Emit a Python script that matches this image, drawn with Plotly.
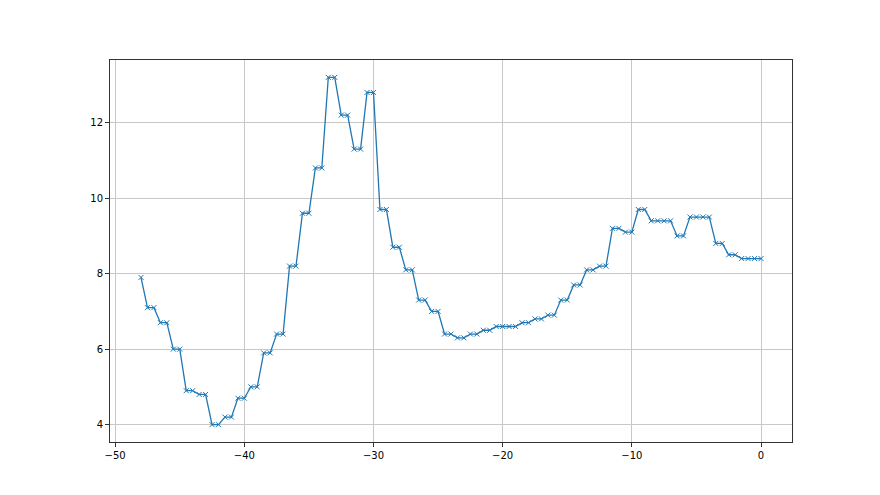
import numpy as np
import plotly.graph_objects as go

x_vals = [
    -48.0, -47.5, -47.0, -46.5, -46.0, -45.5, -45.0, -44.5, -44.0, -43.5,
    -43.0, -42.5, -42.0, -41.5, -41.0, -40.5, -40.0, -39.5, -39.0, -38.5,
    -38.0, -37.5, -37.0, -36.5, -36.0, -35.5, -35.0, -34.5, -34.0, -33.5,
    -33.0, -32.5, -32.0, -31.5, -31.0, -30.5, -30.0, -29.5, -29.0, -28.5,
    -28.0, -27.5, -27.0, -26.5, -26.0, -25.5, -25.0, -24.5, -24.0, -23.5,
    -23.0, -22.5, -22.0, -21.5, -21.0, -20.5, -20.0, -19.5, -19.0, -18.5,
    -18.0, -17.5, -17.0, -16.5, -16.0, -15.5, -15.0, -14.5, -14.0, -13.5,
    -13.0, -12.5, -12.0, -11.5, -11.0, -10.5, -10.0, -9.5, -9.0, -8.5,
    -8.0, -7.5, -7.0, -6.5, -6.0, -5.5, -5.0, -4.5, -4.0, -3.5,
    -3.0, -2.5, -2.0, -1.5, -1.0, -0.5, 0.0,
]

y_vals = [
    7.9, 7.1, 7.1, 6.7, 6.7, 6.0, 6.0, 4.9, 4.9, 4.8,
    4.8, 4.0, 4.0, 4.2, 4.2, 4.7, 4.7, 5.0, 5.0, 5.9,
    5.9, 6.4, 6.4, 8.2, 8.2, 9.6, 9.6, 10.8, 10.8, 13.2,
    13.2, 12.2, 12.2, 11.3, 11.3, 12.8, 12.8, 9.7, 9.7, 8.7,
    8.7, 8.1, 8.1, 7.3, 7.3, 7.0, 7.0, 6.4, 6.4, 6.3,
    6.3, 6.4, 6.4, 6.5, 6.5, 6.6, 6.6, 6.6, 6.6, 6.7,
    6.7, 6.8, 6.8, 6.9, 6.9, 7.3, 7.3, 7.7, 7.7, 8.1,
    8.1, 8.2, 8.2, 9.2, 9.2, 9.1, 9.1, 9.7, 9.7, 9.4,
    9.4, 9.4, 9.4, 9.0, 9.0, 9.5, 9.5, 9.5, 9.5, 8.8,
    8.8, 8.5, 8.5, 8.4, 8.4, 8.4, 8.4,
]

x_ticks = [-50, -40, -30, -20, -10, 0]
y_ticks = [4, 6, 8, 10, 12]

fig = go.Figure()
fig.add_trace(go.Scatter(
    x=x_vals, y=y_vals, mode="lines+markers",
    line=dict(color="#1f77b4", width=1.3),
    marker=dict(symbol="x-thin", size=5, color="#1f77b4",
                line=dict(color="#1f77b4", width=1)),
    showlegend=False,
))

axis_common = dict(
    showgrid=True, gridcolor="#c8c8c8", gridwidth=0.8,
    showline=True, linecolor="#333333", linewidth=1, mirror=True,
    ticks="outside", ticklen=4, tickwidth=1, tickcolor="#333333",
    zeroline=False,
    tickfont=dict(family="DejaVu Sans", size=10, color="black"),
)

fig.update_xaxes(range=[-50.4, 2.4], tickvals=x_ticks, **axis_common)
fig.update_yaxes(range=[3.54, 13.66], tickvals=y_ticks, **axis_common)

fig.update_layout(
    width=880, height=495,
    margin=dict(l=102, r=96, t=52, b=61),
    paper_bgcolor="white", plot_bgcolor="white",
    font=dict(family="DejaVu Sans", size=10, color="black"),
)

fig.write_html("out.html")
